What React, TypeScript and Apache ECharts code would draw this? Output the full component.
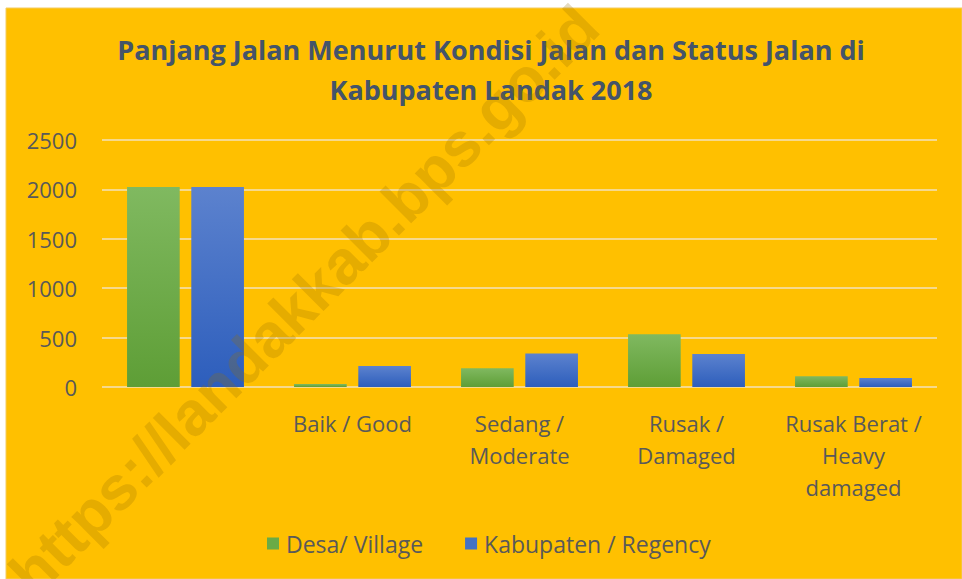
import React, { useEffect, useRef } from "react";
import * as echarts from "echarts";

const categories = ["", "Baik / Good", "Sedang /\nModerate", "Rusak /\nDamaged", "Rusak Berat /\nHeavy\ndamaged"];
const desaValues = [2025, 30, 190, 535, 110];
const kabupatenValues = [2025, 212, 338, 335, 90];
const yTicks = [0, 500, 1000, 1500, 2000, 2500];
const seriesNames = ["Desa/ Village", "Kabupaten / Regency"];
const titleText = "Panjang Jalan Menurut Kondisi Jalan dan Status Jalan di\nKabupaten Landak 2018";
const watermarkText = "https://landakkab.bps.go.id";

const FONT = "'Open Sans', sans-serif";

export default function App() {
  const ref = useRef<HTMLDivElement>(null);
  useEffect(() => {
    document.body.style.margin = "0";
    if (!ref.current) return;
    const chart = echarts.init(ref.current, undefined, { renderer: "svg" });
    const grad = (top: string, bottom: string) =>
      new echarts.graphic.LinearGradient(0, 0, 0, 1, [
        { offset: 0, color: top },
        { offset: 1, color: bottom },
      ]);
    chart.setOption({
      animation: false,
      backgroundColor: "#ffffff",
      title: {
        text: titleText,
        left: 486,
        top: 24,
        textAlign: "center",
        textStyle: {
          fontFamily: FONT,
          fontWeight: "bold",
          fontSize: 27,
          lineHeight: 40,
          color: "#44546A",
        },
      },
      legend: {
        left: 262,
        top: 527,
        itemWidth: 12,
        itemHeight: 12,
        itemGap: 42,
        icon: "rect",
        data: [
          { name: seriesNames[0], itemStyle: { color: "#6AAB46" } },
          { name: seriesNames[1], itemStyle: { color: "#4472C4" } },
        ],
        textStyle: { fontFamily: FONT, fontSize: 23, color: "#595959", padding: [0, 0, 0, 2] },
      },
      grid: { left: 102, right: 25, top: 140, bottom: 192 },
      xAxis: {
        type: "category",
        data: categories,
        axisLine: { show: false },
        axisTick: { show: false },
        axisLabel: {
          interval: 0,
          margin: 20,
          fontFamily: FONT,
          fontSize: 22,
          lineHeight: 32,
          color: "#595959",
          verticalAlign: "top",
        },
      },
      yAxis: {
        type: "value",
        min: yTicks[0],
        max: yTicks[yTicks.length - 1],
        interval: 500,
        axisLine: { show: false },
        axisTick: { show: false },
        axisLabel: {
          margin: 25,
          fontFamily: FONT,
          fontSize: 22,
          color: "#595959",
          formatter: (v: number) => String(v),
        },
        splitLine: { lineStyle: { color: "#F6D98C", width: 2 } },
      },
      series: [
        {
          name: seriesNames[0],
          type: "bar",
          data: desaValues,
          barGap: "22%",
          barCategoryGap: "30%",
          itemStyle: { color: grad("#80B960", "#5E9E36") },
        },
        {
          name: seriesNames[1],
          type: "bar",
          data: kabupatenValues,
          itemStyle: { color: grad("#5C82CE", "#2D5EBC") },
        },
      ],
      graphic: [
        {
          type: "rect",
          z: -10,
          silent: true,
          shape: { x: 6, y: 8, width: 956, height: 571 },
          style: { fill: "#FFC000", stroke: "#F2CB62", lineWidth: 1 },
        },
        {
          type: "text",
          z: 100,
          silent: true,
          x: 304,
          y: 300,
          rotation: Math.PI / 4,
          style: {
            text: watermarkText,
            fontFamily: "'Liberation Sans', Arial, sans-serif",
            fontWeight: "bold",
            fontSize: 62,
            fill: "rgba(150,110,0,0.25)",
            align: "center",
            verticalAlign: "middle",
          },
        },
      ],
    });
    return () => chart.dispose();
  }, []);
  return <div ref={ref} style={{ width: 962, height: 579 }} />;
}
